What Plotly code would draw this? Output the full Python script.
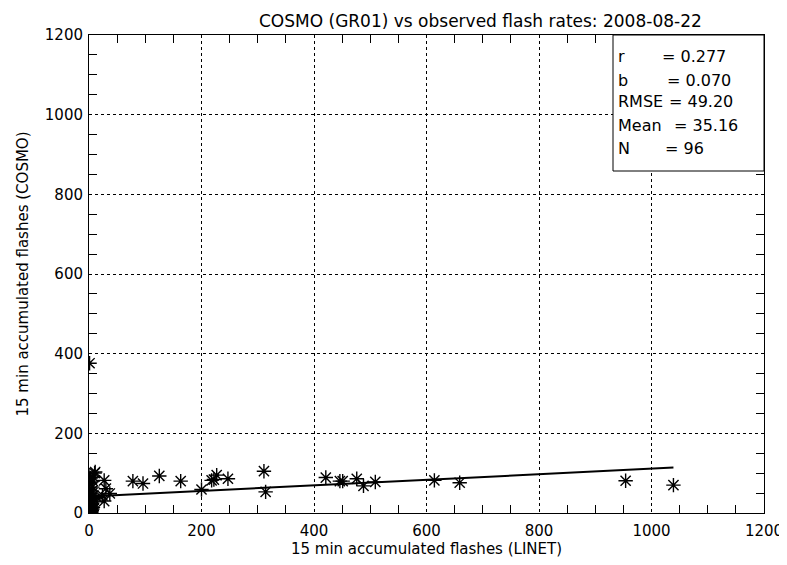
import plotly.graph_objects as go

# Observed (LINET) vs modelled (COSMO) 15-min accumulated flashes
linet_main = [1, 11, 14, 24, 27, 27, 30, 37, 78, 96, 125, 163, 200, 218, 222, 227,
              247, 311, 314, 421, 446, 451, 476, 488, 509, 614, 659, 954, 1039]
cosmo_main = [376, 103, 39, 44, 30, 82, 61, 49, 80, 74, 93, 80, 59, 82, 84, 95,
              86, 105, 53, 89, 80, 80, 86, 68, 78, 82, 76, 81, 70]

linet_cluster = [0, 0, 0, 0, 0, 0, 0, 0, 0, 0, 0, 0, 0, 0, 0, 0, 0, 0, 0, 0,
                 1, 1, 1, 1, 1, 2, 2, 2, 2, 3, 3, 3, 3, 4, 4, 4, 5, 5, 5, 6, 6,
                 7, 7, 8, 8, 9, 10,
                 0, 0, 1, 2, 3, 1, 2, 0, 4, 5, 0, 1, 2, 3, 0, 6, 2, 1, 0, 3]
cosmo_cluster = [0, 0, 0, 0, 0, 0, 0, 0, 0, 0, 0, 0, 0, 0, 0, 0, 0, 2, 3, 5,
                 1, 4, 8, 12, 20, 3, 6, 15, 25, 2, 9, 18, 30, 5, 11, 40, 7, 22, 55, 10, 65,
                 14, 80, 28, 90, 35, 100,
                 0, 1, 2, 0, 3, 4, 1, 0, 2, 6, 45, 60, 75, 88, 95, 50, 4, 3, 0, 2]

fit_intercept = 41.3
fit_slope = 0.070

stat_labels = ["r", "b", "RMSE", "Mean", "N"]
stat_values = ["= 0.277", "= 0.070", "= 49.20", "= 35.16", "= 96"]

title = "COSMO (GR01) vs observed flash rates: 2008-08-22"
x_title = "15 min accumulated flashes (LINET)"
y_title = "15 min accumulated flashes (COSMO)"

xs = linet_cluster + linet_main
ys = cosmo_cluster + cosmo_main

font_family = "DejaVu Sans"

# the page body adds an 8px offset; compensate so the plot lands where the reference has it
OFF = 8
W, H = 787 - OFF, 565 - OFF
plot_left, plot_right = 89 - OFF, 764 - OFF
plot_top, plot_bottom = 35 - OFF, 513 - OFF

fig = go.Figure()
xmin, xmax = min(xs), max(xs)
fig.add_trace(go.Scatter(
    x=[xmin, xmax],
    y=[fit_intercept + fit_slope * xmin, fit_intercept + fit_slope * xmax],
    mode="lines", line=dict(color="black", width=2), showlegend=False,
    hoverinfo="skip"))
fig.add_trace(go.Scatter(
    x=xs, y=ys, mode="markers",
    marker=dict(symbol="asterisk-open", size=12, color="black",
                line=dict(color="black", width=1.4)),
    showlegend=False))

axis_common = dict(
    range=[0, 1200], dtick=200, tick0=0, automargin=False,
    showline=True, linecolor="black", linewidth=1, mirror="allticks",
    ticks="inside", ticklen=0, tickcolor="black",
    showgrid=True, gridcolor="black", griddash="dot", gridwidth=1,
    zeroline=False,
    minor=dict(dtick=50, ticks="inside", ticklen=8, tickcolor="black",
               showgrid=False),
    tickfont=dict(family=font_family, size=15, color="black"),
)

fig.update_xaxes(**axis_common, ticklabelstandoff=4,
                 title=dict(text=x_title, standoff=0,
                            font=dict(family=font_family, size=15, color="black")))
fig.update_yaxes(**axis_common, ticklabelstandoff=2,
                 title=dict(text=y_title, standoff=12,
                            font=dict(family=font_family, size=15, color="black")))

# statistics box
box_x0 = (613 - OFF - plot_left) / (plot_right - plot_left)
box_y0 = (plot_bottom - (171 - OFF)) / (plot_bottom - plot_top)
fig.add_shape(type="rect", xref="paper", yref="paper",
              x0=box_x0, x1=1.0, y0=box_y0, y1=1.0,
              fillcolor="white", line=dict(color="black", width=1), layer="above")

line_px = [57, 80, 102, 125, 148]
eq_px = [660, 665, 667, 672, 663]
for lab, val, ypx, expx in zip(stat_labels, stat_values, line_px, eq_px):
    yp = (plot_bottom - (ypx - OFF)) / (plot_bottom - plot_top)
    fig.add_annotation(xref="paper", yref="paper",
                       x=(616 - OFF - plot_left) / (plot_right - plot_left), y=yp,
                       text=lab, showarrow=False, xanchor="left", yanchor="middle",
                       font=dict(family=font_family, size=16, color="black"))
    fig.add_annotation(xref="paper", yref="paper",
                       x=(expx - OFF - plot_left) / (plot_right - plot_left), y=yp,
                       text=val, showarrow=False, xanchor="left", yanchor="middle",
                       font=dict(family=font_family, size=16, color="black"))

# title as a paper annotation placed just inside the figure's top edge
fig.add_annotation(xref="paper", yref="paper", x=(480 - OFF - plot_left) / (plot_right - plot_left),
                   y=(plot_bottom - 1) / (plot_bottom - plot_top),
                   text=title, showarrow=False, xanchor="center", yanchor="top",
                   font=dict(family=font_family, size=17, color="black"))

fig.update_layout(
    width=W, height=H,
    margin=dict(l=plot_left, r=W - plot_right, t=plot_top, b=H - plot_bottom,
                autoexpand=False),
    paper_bgcolor="white", plot_bgcolor="white",
    font=dict(family=font_family, color="black"),
)

fig.write_html("out.html")
